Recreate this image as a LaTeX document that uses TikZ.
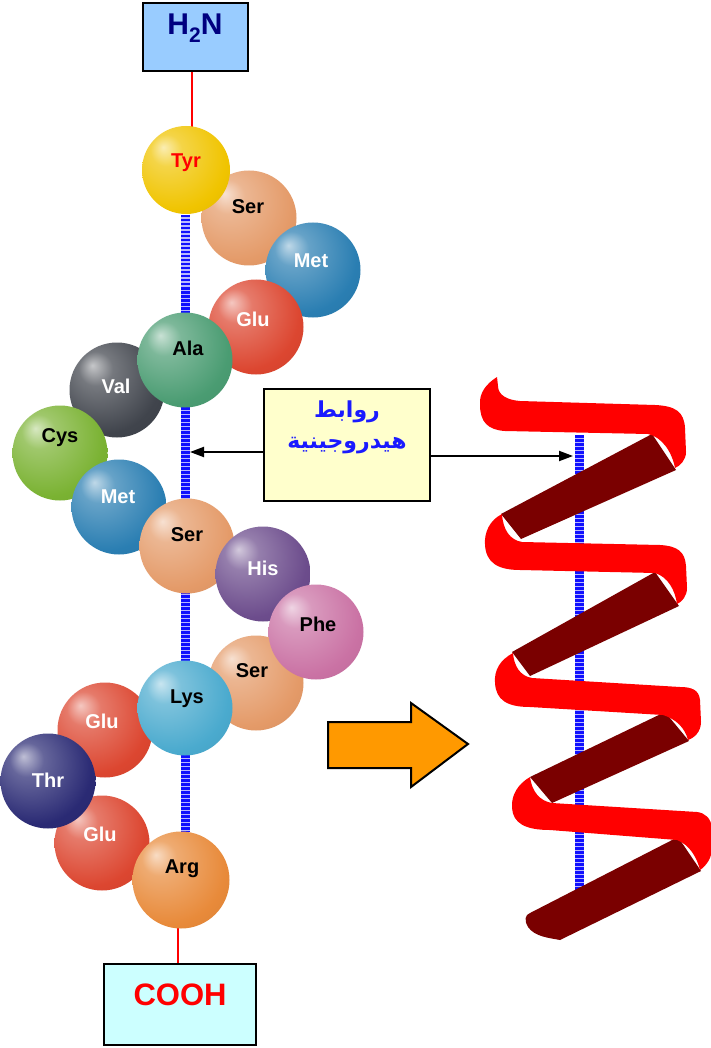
\documentclass[tikz,border=0pt]{standalone}
\usepackage{fontspec}
\setmainfont{Liberation Sans}
\newfontfamily\arabicfont[Script=Arabic]{DejaVu Sans}
\TeXXeTstate=1
\usetikzlibrary{arrows.meta}

% glossy sphere: highlight up-left, darker rim down-right
\pgfdeclareradialshading[spherebase]{sphere}{\pgfqpoint{-13bp}{13bp}}{%
  color(0bp)=(spherebase!30!white);
  color(9bp)=(spherebase!72!white);
  color(30bp)=(spherebase);
  color(52bp)=(spherebase!88!black);
  color(66bp)=(spherebase!72!black)}

\definecolor{tyrcol}{HTML}{F0C400}
\definecolor{sercol}{HTML}{E49A68}
\definecolor{metcol}{HTML}{2A7EB2}
\definecolor{glucol}{HTML}{DC4630}
\definecolor{alacol}{HTML}{4A9C72}
\definecolor{valcol}{HTML}{40444C}
\definecolor{cyscol}{HTML}{7AB232}
\definecolor{hiscol}{HTML}{6C4C8C}
\definecolor{phecol}{HTML}{CA72A4}
\definecolor{lyscol}{HTML}{4AAACE}
\definecolor{thrcol}{HTML}{2A2A74}
\definecolor{argcol}{HTML}{E88A3A}
\definecolor{h2nfill}{HTML}{99CCFF}
\definecolor{h2ntext}{HTML}{000080}
\definecolor{coohfill}{HTML}{CCFFFF}
\definecolor{notefill}{HTML}{FFFFCC}
\definecolor{notetext}{HTML}{1A1AFF}
\definecolor{hbblue}{HTML}{1010FF}
\definecolor{hbpale}{HTML}{B8B8FF}
\definecolor{ribred}{HTML}{FF0000}
\definecolor{ribdark}{HTML}{7A0000}
\definecolor{arrorange}{HTML}{FF9900}

\begin{document}
\begin{tikzpicture}[x=1pt,y=-1pt,
  sph/.style={circle, inner sep=0pt, minimum size=95pt, shade, shading=sphere,
    /utils/exec={\colorlet{spherebase}{#1}}},
  lbl/.style={font=\bfseries\fontsize{20}{20}\selectfont, inner sep=0pt},
  wlbl/.style={lbl, text=white},
  endbox/.style={draw=black, line width=2.5pt, inner sep=0pt},
  redline/.style={draw=red, line width=2pt},
  hbond/.style={draw=hbblue, line width=9pt, dash pattern=on 2.5pt off 1.5pt,
    preaction={draw=hbpale, line width=9pt, solid}},
  pointer/.style={draw=black, line width=2pt, -{Triangle[length=14pt, width=10pt]}}]

\useasboundingbox (0,0) rectangle (710,1048);
\fill[white] (0,0) rectangle (710,1048);

% ---- terminal boxes ----
\node[endbox, fill=h2nfill, minimum width=105pt, minimum height=68pt] (h2n) at (195.5,37) {};
\node[anchor=base, inner sep=0pt, text=h2ntext, font=\bfseries\fontsize{30}{30}\selectfont]
  (h2n-t) at (195,35) {H\raisebox{-8pt}{\fontsize{21}{21}\selectfont 2}N};
\node[endbox, fill=coohfill, minimum width=152pt, minimum height=81pt] (cooh) at (180,1004.5) {};
\node[anchor=base, inner sep=0pt, text=red, font=\bfseries\fontsize{31}{31}\selectfont]
  (cooh-t) at (180,1005) {COOH};

% ---- hydrogen-bond axis of the chain and terminal links ----
\coordinate (hl-top) at (185,215);
\coordinate (hl-bot) at (185,832);
\draw[hbond] (hl-top) -- (hl-bot);
\draw[redline] ([xshift=-3.5pt]h2n.south) -- ++(0,60);
\draw[redline] ([xshift=-2pt]cooh.north) -- ++(0,-60);

% ---- residues ----
\node[sph=sercol] (ser1) at (249,218) {};
\node[sph=metcol] (met1) at (313,270) {};
\node[sph=glucol] (glu1) at (256,327) {};
\node[sph=tyrcol, minimum size=88pt] (tyr) at (186,170) {};
\node[sph=valcol] (val) at (117,390) {};
\node[sph=cyscol] (cys) at (60,453) {};
\node[sph=alacol] (ala) at (185,360) {};
\node[sph=metcol] (met2) at (119,507) {};
\node[sph=sercol] (ser2) at (187,546) {};
\node[sph=hiscol] (his) at (263,574) {};
\node[sph=sercol] (ser3) at (256,683) {};
\node[sph=phecol] (phe) at (316,632) {};
\node[sph=glucol] (glu2) at (105,730) {};
\node[sph=glucol] (glu3) at (102,843) {};
\node[sph=thrcol] (thr) at (48,781) {};
\node[sph=lyscol] (lys) at (185,708) {};
\node[sph=argcol, minimum size=97pt] (arg) at (181,880) {};

% ---- residue names ----
\node[lbl, text=red] (tyr-t) at (186,163) {Tyr};
\node[lbl] (ser1-t) at (248,207) {Ser};
\node[wlbl] (met1-t) at (311,261) {Met};
\node[wlbl] (glu1-t) at (253,319) {Glu};
\node[lbl] (ala-t) at (188,348) {Ala};
\node[wlbl] (val-t) at (116,386) {Val};
\node[lbl] (cys-t) at (60,438) {Cys};
\node[wlbl] (met2-t) at (118,497) {Met};
\node[lbl] (ser2-t) at (187,535) {Ser};
\node[wlbl] (his-t) at (263,568) {His};
\node[lbl] (phe-t) at (318,624) {Phe};
\node[lbl] (ser3-t) at (252,671) {Ser};
\node[lbl] (lys-t) at (187,699) {Lys};
\node[wlbl] (glu2-t) at (102,721) {Glu};
\node[wlbl] (thr-t) at (48,780) {Thr};
\node[wlbl] (glu3-t) at (100,834) {Glu};
\node[lbl] (arg-t) at (182,869) {Arg};

% ---- helix ribbon ----
\coordinate (hr-top) at (579,435);
\coordinate (hr-bot) at (579,893);
\draw[hbond] (hr-top) -- (hr-bot);

% back side of each turn
\fill[ribdark] (652,434) -- (676,470) -- (521,539) -- (501,514) -- cycle;
\fill[ribdark] (655,572) -- (679,606) -- (530,676) -- (512,652) -- cycle;
\fill[ribdark] (665,712) -- (689,741) -- (552,803) -- (530,777) -- cycle;
\fill[ribdark] (678,837) -- (701,871) -- (560,940)
  .. controls (550,938) and (535,937) .. (528,927)
  .. controls (524,920) and (525,915) .. (530,913) -- cycle;

% front side of each turn
\fill[ribred] (497,377) .. controls (486,384) and (479,393) .. (480,405)
  .. controls (480,422) and (488,430) .. (505,431)
  -- (648,434)
  .. controls (662,437) and (672,452) .. (675,468)
  .. controls (680,466) and (686,460) .. (686,452)
  -- (685,428)
  .. controls (684,412) and (676,406) .. (655,405)
  -- (520,401)
  .. controls (507,400) and (498,395) .. (498,386) -- cycle;
\fill[ribred] (502,514) .. controls (490,520) and (484,532) .. (485,545)
  .. controls (486,562) and (497,570) .. (520,570)
  -- (655,573)
  .. controls (668,577) and (675,590) .. (677,604)
  .. controls (682,602) and (687,596) .. (687,588)
  -- (686,566)
  .. controls (685,552) and (678,546) .. (660,545)
  -- (522,542)
  .. controls (510,540) and (503,530) .. (502,514) -- cycle;
\fill[ribred] (513,653) .. controls (500,660) and (494,670) .. (495,683)
  .. controls (496,700) and (507,707) .. (530,707)
  -- (663,715)
  .. controls (676,719) and (685,728) .. (688,740)
  .. controls (694,738) and (701,732) .. (701,722)
  -- (700,700)
  .. controls (699,690) and (692,687) .. (680,687)
  -- (532,678)
  .. controls (520,676) and (514,666) .. (513,653) -- cycle;
\fill[ribred] (530,777) .. controls (518,784) and (511,795) .. (512,808)
  .. controls (513,823) and (525,830) .. (550,830)
  -- (677,840)
  .. controls (690,845) and (697,858) .. (700,870)
  .. controls (706,866) and (712,858) .. (712,848)
  -- (712,828)
  .. controls (711,818) and (705,813) .. (697,812)
  -- (552,803)
  .. controls (540,801) and (532,792) .. (530,777) -- cycle;

% ---- hydrogen-bond note ----
\node[endbox, fill=notefill, minimum width=166pt, minimum height=112pt] (note) at (347,445) {};
\node[inner sep=0pt, text=notetext, font=\arabicfont\bfseries\fontsize{22}{22}\selectfont]
  (note-1) at (347,412) {\beginR روابط\endR};
\node[inner sep=0pt, text=notetext, font=\arabicfont\bfseries\fontsize{22}{22}\selectfont]
  (note-2) at (347,446) {\beginR هيدروجينية\endR};
\coordinate (note-l) at (190,452);
\coordinate (note-r) at (573,456);
\draw[pointer] (note.west |- note-l) -- (note-l);
\draw[pointer] (note.east |- note-r) -- (note-r);

% ---- folding arrow ----
\draw[line width=2pt, fill=arrorange, line join=miter]
  (328,722) -- (411,722) -- (411,703) -- (468,744) -- (411,787) -- (411,768) -- (328,768) -- cycle;

\end{tikzpicture}
\end{document}
